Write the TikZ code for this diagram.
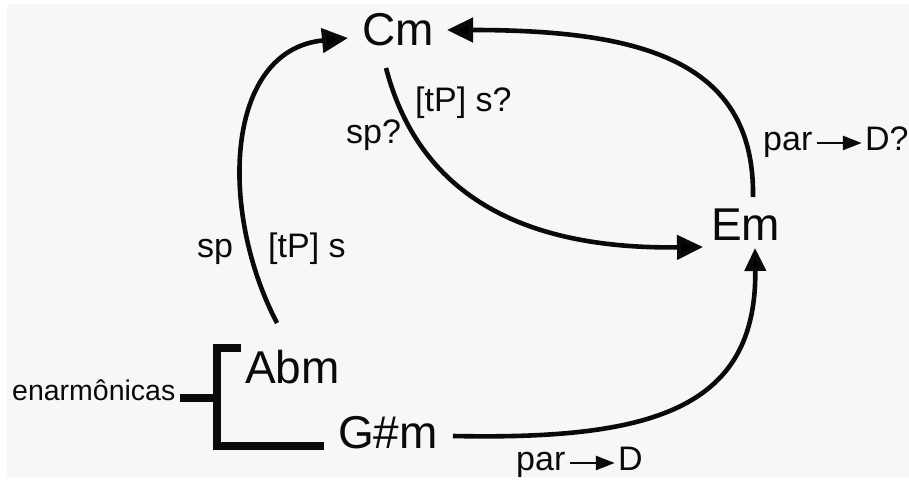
\documentclass[tikz,border=0pt]{standalone}
\usepackage{fontspec}
\setmainfont{Liberation Sans}
\usetikzlibrary{arrows.meta,calc}

% small arrow used inside the "par -> D" labels
\newcommand\pararrow{\kern3pt\tikz[baseline={(0pt,-7pt)}]
  \draw[line width=2.8pt,-{Triangle[length=19pt,width=14pt]}] (0pt,0pt) -- (45pt,0pt);\kern2pt}

\definecolor{paper}{HTML}{F7F7F7}
\definecolor{ink}{HTML}{0A0A0A}

\begin{document}
\begin{tikzpicture}[x=1pt,y=-1pt,
  chord/.style={anchor=base west,inner sep=0pt,text=ink,
    font=\fontsize{46}{50}\selectfont},
  fn/.style={anchor=base west,inner sep=0pt,text=ink,
    font=\fontsize{34}{38}\selectfont},
  note/.style={anchor=base west,inner sep=0pt,text=ink,
    font=\fontsize{28.5}{32}\selectfont},
  link/.style={draw=ink,line width=4.6pt,
    -{Triangle[length=26pt,width=24pt]}},
  brace/.style={draw=ink,line width=8pt,line join=miter}]

% canvas
\useasboundingbox (0,0) rectangle (909,479);
\fill[white] (0,0) rectangle (909,479);
\fill[paper] (7,4) rectangle (909,477);

% keys
\node[chord] (cm)  at (362,45)  {Cm};
\node[chord] (em)  at (711,240) {Em};
\node[chord] (abm) at (245,383) {Abm};
\node[chord] (gsm) at (338,448) {G\#m};
\node[note]  (enh) at (12,400)  {enarmônicas};

% function labels
\node[fn] (lcmem)  at (415,111) {[tP] s?};
\node[fn] (lcmemb) at (346,143) {sp?};
\node[fn] (lemcm)  at (763,150) {par\pararrow D?};
\node[fn] (labl)   at (197,257) {sp};
\node[fn] (labr)   at (268,257) {[tP] s};
\node[fn] (lgsem)  at (516,470) {par\pararrow D};

% connectors
\draw[link] ($(abm.base west)+(32,-60)$)
  .. controls (218,210) and (225,50) .. ($(cm.base west)+(-14,-7)$);
\draw[link] ($(cm.base west)+(24,23)$)
  .. controls (410,160) and (480,250) .. ($(em.base west)+(-8,7)$);
\draw[link] ($(em.base west)+(42,-43)$)
  .. controls (755,60) and (640,30) .. ($(cm.base west)+(85,-15)$);
\draw[link,-{Triangle[length=23pt,width=21pt]}] ($(gsm.base west)+(115,-12)$)
  .. controls (650,440) and (757,410) .. ($(em.base west)+(44,8)$);

% bracket joining the enharmonic pair
\coordinate (btop)  at (241,347.5);
\coordinate (bbot)  at (324,446);
\coordinate (btick) at (180,398);
\draw[brace] (btop) -- (217,347.5) -- (217,446) -- (bbot);
\draw[brace] (btick) -- (217,398);
\end{tikzpicture}
\end{document}
